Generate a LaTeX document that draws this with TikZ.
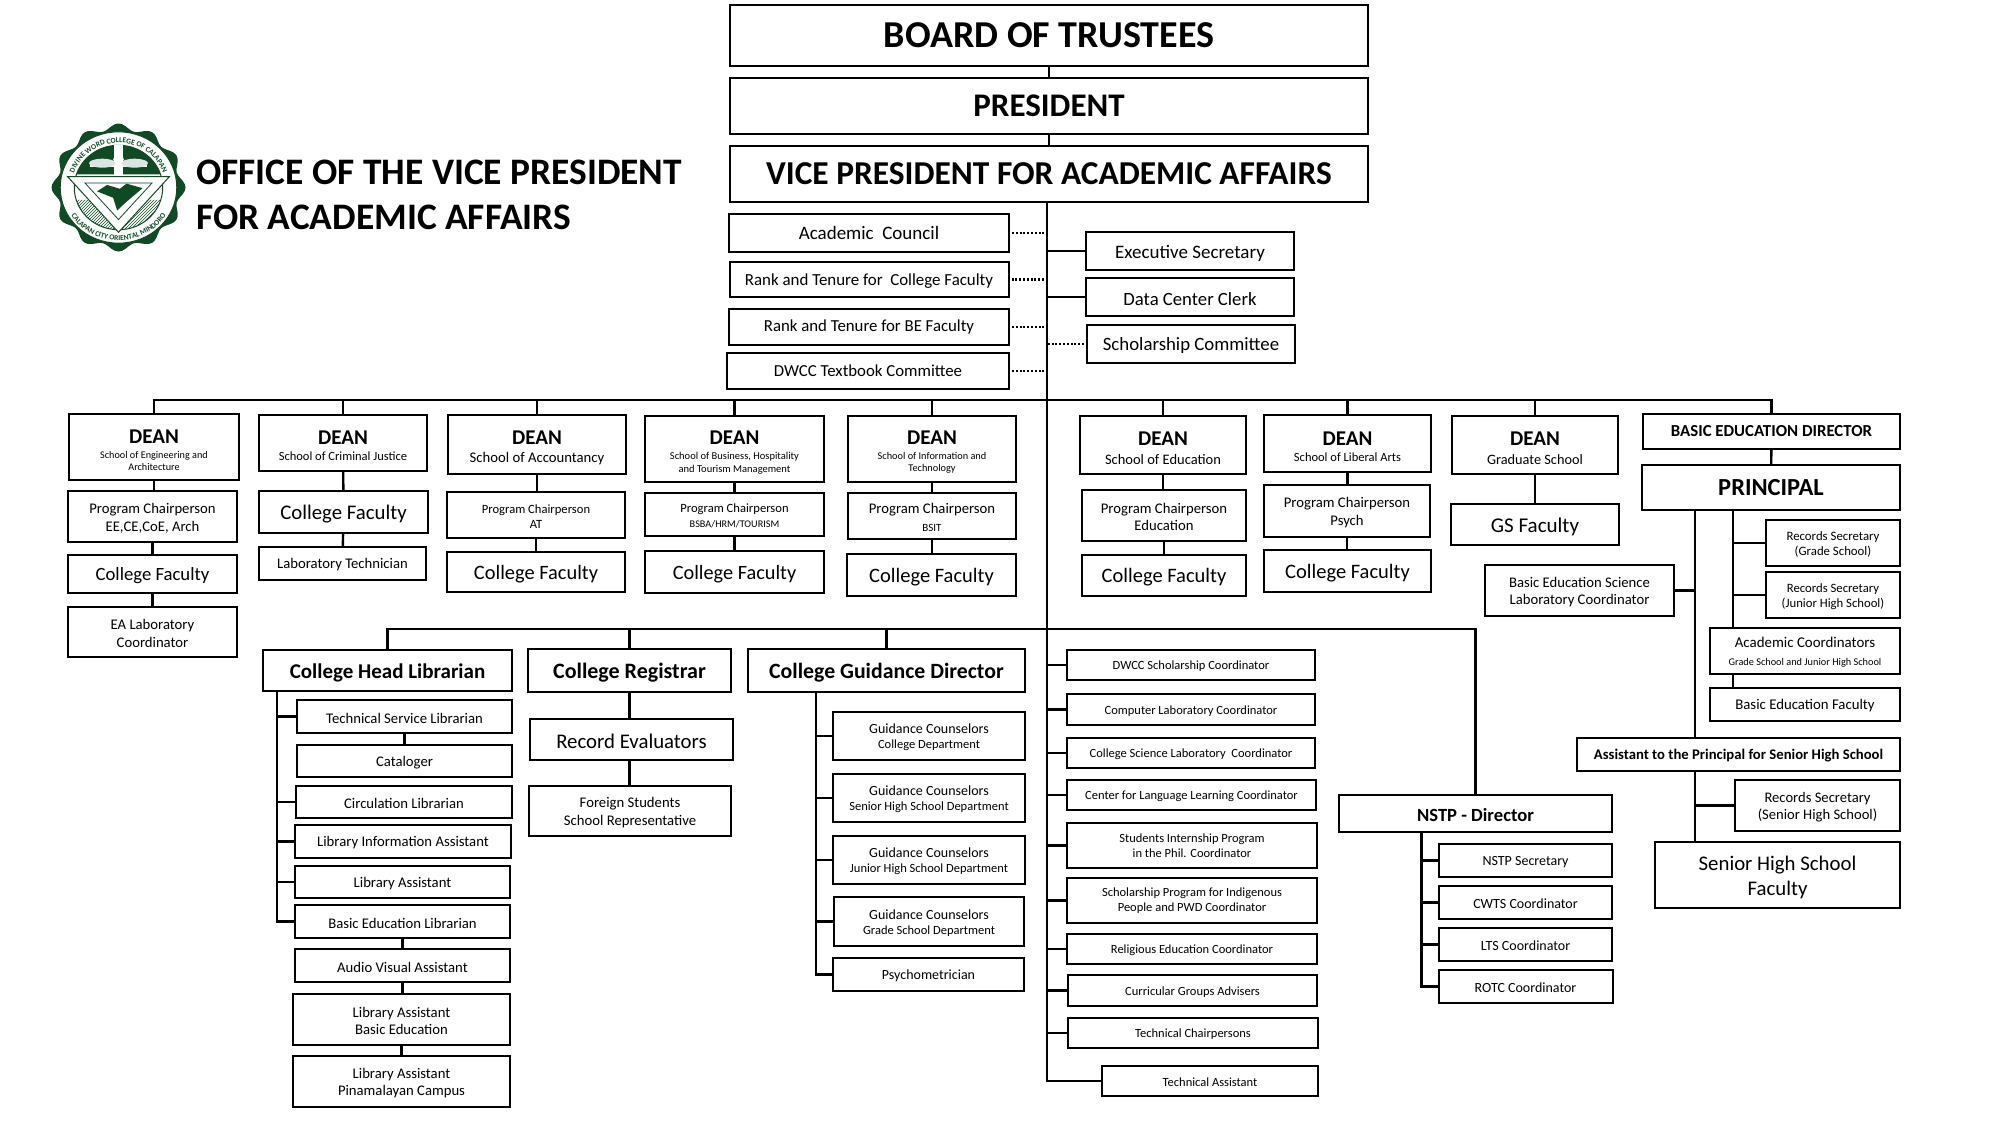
\documentclass[tikz,border=0pt]{standalone}
\usepackage{fontspec}
\setmainfont{Carlito}
\usetikzlibrary{patterns,decorations.text}
\definecolor{sealgreen}{HTML}{0F4A24}
\newcommand{\fz}[1]{\fontsize{#1}{#1}\selectfont\baselineskip=1.2\dimexpr#1pt\relax}
\newcommand{\deanhead}{{\fz{21}\bfseries\rule{0pt}{20pt}DEAN}}
\newcommand{\lead}{\rule{0pt}{.9em}}
\tikzset{
	capsbox/.style 2 args={draw, rectangle, line width=2pt, outer sep=0pt, inner sep=0pt,
		minimum width=#1pt, minimum height=#2pt, align=center},
	box/.style 2 args={capsbox={#1}{#2}, execute at begin node={\rule{0pt}{.9em}}},
	link/.style={line width=2.4pt},
	dotlink/.style={line width=2.4pt, dash pattern=on 2pt off 1.8pt, shorten <=3pt}
}
\begin{document}
\begin{tikzpicture}[x=1pt, y=-1pt]
	\useasboundingbox (0,0) rectangle (2000,1125);

	% seal
	\begin{scope}[shift={(118.5,187.5)}, x=67pt, y=64pt]
		\fill [sealgreen] plot [domain=0:360, samples=121, smooth] ({(1-.05+.05*cos(12*\x))*cos(\x)},{(1-.05+.05*cos(12*\x))*sin(\x)}) -- cycle;
		\draw [fill=white, draw=sealgreen, line width=1pt] (0,0) circle (.87);
		\path [decorate, decoration={text along path, text align=center, text={|\fz{7.5}\bfseries\color{sealgreen}|DIVINE WORD COLLEGE OF CALAPAN}}] (183:.7) arc (183:-3:.7);
		\path [decorate, decoration={text along path, text align=center, text={|\fz{7.5}\bfseries\color{sealgreen}|CALAPAN CITY ORIENTAL MINDORO}}] (200:.83) arc (200:340:.83);
		\draw [sealgreen, line width=1pt] (0,0) circle (.66);
		\fill [sealgreen] (162:.66) arc (162:18:.66) -- cycle;
		\fill [white] (-.07,.66) rectangle (.07,.2);
		\fill [white] (-.42,.36) rectangle (.42,.32);
		\fill [white!85!sealgreen] (-.24,.38) ellipse (.2 and .07);
		\fill [white!85!sealgreen] (.24,.38) ellipse (.2 and .07);
		\fill [white] (0,.44) circle (.08);
		\fill [pattern=north east lines, pattern color=sealgreen] (197:.66) arc (197:343:.66) -- cycle;
		\draw [sealgreen, fill=white, line width=1pt] (-.76,.17) -- (.76,.17) -- (0,-.7) -- cycle;
		\draw [sealgreen, fill=white, line width=.8pt] (-.5,.07) -- (.5,.07) -- (0,-.5) -- cycle;
		\fill [sealgreen] (-.32,-.06) -- (-.17,.04) -- (.02,-.02) -- (.12,.06) -- (.36,-.01) -- (.1,-.24) -- (-.02,-.36) -- (-.08,-.16) -- cycle;
	\end{scope}

	\node [anchor=west, align=left, inner sep=0pt, font=\fz{37.4}\bfseries] (title) at (196,195) {OFFICE OF THE VICE PRESIDENT\\[0pt]FOR ACADEMIC AFFAIRS};

	% top of the chart
	\node [capsbox={638}{61}, font=\fz{38}\bfseries] (board) at (1049,35.5) {BOARD OF TRUSTEES};
	\node [capsbox={638}{56}, font=\fz{33}\bfseries] (pres) at (1049,106) {PRESIDENT};
	\node [capsbox={638}{56}, font=\fz{33.4}\bfseries] (vp) at (1049,174) {VICE PRESIDENT FOR ACADEMIC AFFAIRS};

	\node [capsbox={280}{38}, font=\fz{19}] (acad) at (869,233) {Academic\ \ Council};
	\node [box={279}{35}, font=\fz{16.9}] (rankcol) at (869,279.5) {Rank and Tenure for\ \ College Faculty};
	\node [capsbox={280}{36}, font=\fz{16.8}] (rankbe) at (869,327) {Rank and Tenure for BE Faculty};
	\node [capsbox={282}{36}, font=\fz{16.8}] (textbook) at (868,371) {DWCC Textbook Committee};
	\node [box={208}{38}, font=\fz{19}] (exec) at (1190,251) {Executive Secretary};
	\node [box={208}{38}, font=\fz{18.7}] (data) at (1190,297) {Data Center Clerk};
	\node [box={208}{38}, font=\fz{18.8}] (schol) at (1191,344) {Scholarship Committee};

	% deans
	\node [box={170}{66}, font=\fz{10.2}] (dean1) at (154,447) {\deanhead\\[3pt]School of Engineering and\\Architecture};
	\node [box={169}{51}, font=\fz{14.7}] (pc1) at (152.5,516.5) {\lead Program Chairperson\\EE,CE,CoE, Arch};
	\node [box={169}{38}, font=\fz{18.7}] (cf1) at (152.5,574) {College Faculty};
	\node [box={169}{50}, font=\fz{14.7}] (ealab) at (152.5,632) {\lead EA Laboratory\\Coordinator};

	\node [box={168}{56}, font=\fz{12.5}] (dean2) at (343,443) {\deanhead\\[1pt]School of Criminal Justice};
	\node [box={169}{42}, font=\fz{20.8}] (cf2) at (343.5,512) {College Faculty};
	\node [box={167}{33}, font=\fz{14.7}] (labtech) at (342.5,563.5) {Laboratory Technician};

	\node [box={178}{59}, font=\fz{14.7}] (dean3) at (537,444.5) {\deanhead\\[1pt]School of Accountancy};
	\node [box={178}{46}, font=\fz{12.6}] (pc3) at (536,515) {\lead Program Chairperson\\AT};
	\node [box={178}{40}, font=\fz{20.4}] (cf3) at (536,572) {College Faculty};

	\node [box={179}{66}, font=\fz{10.5}] (dean4) at (734.5,449) {\deanhead\\[3pt]School of Business, Hospitality\\and Tourism Management};
	\node [box={179}{43}, font=\fz{12.6}] (pc4) at (734.5,514.5) {\lead Program Chairperson\\{\fz{10.2}BSBA/HRM/TOURISM}};
	\node [box={179}{42}, font=\fz{20.3}] (cf4) at (734.5,572) {College Faculty};

	\node [box={168}{66}, font=\fz{10.3}] (dean5) at (932,449) {\deanhead\\[3pt]School of Information and\\Technology};
	\node [box={168}{46}, font=\fz{14.7}] (pc5) at (932,516) {\lead Program Chairperson\\{\fz{11}BSIT}};
	\node [box={169}{42}, font=\fz{20.5}] (cf5) at (931.5,575) {College Faculty};

	\node [box={166}{58}, font=\fz{14.5}] (dean6) at (1163,445) {\deanhead\\[1pt]School of Education};
	\node [box={164}{51}, font=\fz{14.7}] (pc6) at (1164,515.5) {\lead Program Chairperson\\Education};
	\node [box={164}{41}, font=\fz{20.5}] (cf6) at (1164,575.5) {College Faculty};

	\node [box={167}{57}, font=\fz{12.5}] (dean7) at (1347.5,443.5) {\deanhead\\[1pt]School of Liberal Arts};
	\node [box={166}{52}, font=\fz{14.7}] (pc7) at (1347,511) {\lead Program Chairperson\\Psych};
	\node [box={167}{42}, font=\fz{20.5}] (cf7) at (1347.5,571) {College Faculty};

	\node [box={166}{58}, font=\fz{14.3}] (dean8) at (1535,445) {\deanhead\\[1pt]Graduate School};
	\node [box={168.5}{41}, font=\fz{21}] (gsfac) at (1535,524.5) {GS Faculty};

	% basic education
	\node [capsbox={257}{35}, font=\fz{16.8}\bfseries] (bed) at (1771.5,431.5) {BASIC EDUCATION DIRECTOR};
	\node [capsbox={258}{45}, font=\fz{24.5}\bfseries] (principal) at (1771,487.5) {PRINCIPAL};
	\node [box={134}{46}, font=\fz{12.8}] (rsgs) at (1833,543) {\lead Records Secretary\\(Grade School)};
	\node [box={134}{46}, font=\fz{12.7}] (rsjhs) at (1833,595) {\lead Records Secretary\\(Junior High School)};
	\node [box={190}{46}, font=\fz{14.9}] (acoord) at (1805,651) {\lead Academic Coordinators\\{\fz{10.3}Grade School and Junior High School}};
	\node [box={190}{33}, font=\fz{14.8}] (befac) at (1805,704.5) {Basic Education Faculty};
	\node [box={189}{51}, font=\fz{14.7}] (belab) at (1579.5,590.5) {\lead Basic Education Science\\Laboratory Coordinator};
	\node [box={323}{33}, font=\fz{14.7}\bfseries] (asst) at (1738.5,754.5) {Assistant to the Principal for Senior High School};
	\node [box={165}{51}, font=\fz{14.6}] (rsshs) at (1817.5,805.5) {\lead Records Secretary\\(Senior High School)};
	\node [box={245}{66}, font=\fz{20.8}] (shsfac) at (1777.5,875) {\lead Senior High School\\Faculty};

	% library
	\node [box={249}{41}, font=\fz{21}\bfseries] (chl) at (387.5,670.5) {College Head Librarian};
	\node [box={215}{33}, font=\fz{14.7}] (tsl) at (404.5,716.5) {Technical Service Librarian};
	\node [box={215}{32}, font=\fz{14.7}] (catal) at (404.5,761) {Cataloger};
	\node [box={216}{32}, font=\fz{14.7}] (circ) at (404,802) {Circulation Librarian};
	\node [box={216}{33}, font=\fz{14.7}] (libinfo) at (403,841.5) {Library Information Assistant};
	\node [box={215}{32}, font=\fz{14.7}] (libasst) at (402.5,882) {Library Assistant};
	\node [box={215}{33}, font=\fz{14.7}] (bel) at (402.5,921.5) {Basic Education Librarian};
	\node [box={215}{33}, font=\fz{14.7}] (av) at (402.5,965.5) {Audio Visual Assistant};
	\node [box={217}{51}, font=\fz{14.7}] (labe) at (401.5,1019.5) {\lead Library Assistant\\Basic Education};
	\node [box={217}{51}, font=\fz{14.7}] (lapin) at (401.5,1081.5) {\lead Library Assistant\\Pinamalayan Campus};

	% registrar
	\node [box={203}{43}, font=\fz{22}\bfseries] (reg) at (629.5,670.5) {College Registrar};
	\node [box={203}{41}, font=\fz{20.8}] (rec) at (631.5,739.5) {Record Evaluators};
	\node [box={202}{50}, font=\fz{14.7}] (foreign) at (630,811) {\lead Foreign Students\\School Representative};

	% guidance
	\node [box={277}{43}, font=\fz{21.8}\bfseries] (cgd) at (886.5,670.5) {College Guidance Director};
	\node [box={192}{48}, font=\fz{12.5}] (gc1) at (929,736) {{\fz{14}\lead Guidance Counselors}\\College Department};
	\node [box={192}{48}, font=\fz{12.5}] (gc2) at (929,798) {{\fz{14}\lead Guidance Counselors}\\Senior High School Department};
	\node [box={192}{48}, font=\fz{12.5}] (gc3) at (929,860) {{\fz{14}\lead Guidance Counselors}\\Junior High School Department};
	\node [box={190}{49}, font=\fz{12.5}] (gc4) at (929,921.5) {{\fz{14}\lead Guidance Counselors}\\Grade School Department};
	\node [box={191}{33}, font=\fz{14}] (psych) at (928.5,974.5) {Psychometrician};

	% coordinators
	\node [box={248}{30}, font=\fz{12.5}] (dwcc) at (1191,665) {DWCC Scholarship Coordinator};
	\node [box={248}{31}, font=\fz{12.5}] (comp) at (1191,709.5) {Computer Laboratory Coordinator};
	\node [box={248}{30}, font=\fz{12.5}] (csl) at (1191,753) {College Science Laboratory\ \ Coordinator};
	\node [box={249}{30}, font=\fz{12.5}] (cll) at (1191.5,795) {Center for Language Learning Coordinator};
	\node [box={250}{45}, font=\fz{12.5}] (sip) at (1192,845.5) {Students Internship Program\\in the Phil. Coordinator};
	\node [box={250}{45}, font=\fz{12.5}] (spi) at (1192,900.5) {Scholarship Program for Indigenous\\People and PWD Coordinator};
	\node [box={250}{30}, font=\fz{12.5}] (rel) at (1192,949) {Religious Education Coordinator};
	\node [box={249}{31}, font=\fz{12.5}] (curr) at (1192.5,990.5) {Curricular Groups Advisers};
	\node [box={250}{30}, font=\fz{12.5}] (tchair) at (1193,1033) {Technical Chairpersons};
	\node [box={216}{30}, font=\fz{12.5}] (tassist) at (1210,1081) {Technical Assistant};

	% nstp
	\node [box={273}{37}, font=\fz{18.6}\bfseries] (nstp) at (1475.5,813.5) {NSTP - Director};
	\node [box={173}{33}, font=\fz{14}] (nsec) at (1525.5,860.5) {NSTP Secretary};
	\node [box={173}{33}, font=\fz{14}] (cwts) at (1525.5,902.5) {CWTS Coordinator};
	\node [box={173}{33}, font=\fz{14}] (lts) at (1525.5,944.5) {LTS Coordinator};
	\node [box={174}{33}, font=\fz{14}] (rotc) at (1525.5,986.5) {ROTC Coordinator};

	\coordinate (trunk) at (1047,202);
	\coordinate (busa) at (1047,400);
	\coordinate (busb) at (1047,629);
	\coordinate (libdown) at (277,691);
	\coordinate (gcdown) at (816,692);
	\coordinate (nstpdown) at (1421.5,832);
	\coordinate (prina) at (1695,510);
	\coordinate (prinb) at (1733,510);

	\draw [link] (board) -- (pres);
	\draw [link] (pres) -- (vp);
	\draw [link] (trunk) |- (tassist);
	\draw [link] (exec) -- (trunk |- exec);
	\draw [link] (data) -- (trunk |- data);
	\draw [dotlink] (acad.east) -- (trunk |- acad.east);
	\draw [dotlink] (rankcol.east) -- (trunk |- rankcol.east);
	\draw [dotlink] (rankbe.east) -- (trunk |- rankbe.east);
	\draw [dotlink] (textbook.east) -- (trunk |- textbook.east);
	\draw [dotlink] (schol.west) -- (trunk |- schol.west);

	\draw [link] (dean1.north) |- (busa) -| (bed.north);
	\draw [link] (dean2.north) -- (dean2.north |- busa);
	\draw [link] (dean3.north) -- (dean3.north |- busa);
	\draw [link] (dean4.north) -- (dean4.north |- busa);
	\draw [link] (dean5.north) -- (dean5.north |- busa);
	\draw [link] (dean6.north) -- (dean6.north |- busa);
	\draw [link] (dean7.north) -- (dean7.north |- busa);
	\draw [link] (dean8.north) -- (dean8.north |- busa);

	\draw [link] (dean1.south) -- (dean1.south |- pc1.north);
	\draw [link] (pc1) -- (cf1);
	\draw [link] (cf1) -- (ealab);
	\draw [link] (dean2) -- (cf2);
	\draw [link] (cf2) -- (labtech);
	\draw [link] (dean3.south) -- (dean3.south |- pc3.north);
	\draw [link] (pc3) -- (cf3);
	\draw [link] (dean4) -- (pc4);
	\draw [link] (pc4) -- (cf4);
	\draw [link] (dean5) -- (pc5);
	\draw [link] (pc5.south) -- (pc5.south |- cf5.north);
	\draw [link] (dean6.south) -- (dean6.south |- pc6.north);
	\draw [link] (pc6) -- (cf6);
	\draw [link] (dean7.south) -- (dean7.south |- pc7.north);
	\draw [link] (pc7.south) -- (pc7.south |- cf7.north);
	\draw [link] (dean8) -- (gsfac);

	\draw [link] (bed) -- (principal);
	\draw [link] (prina) -- (prina |- asst.north);
	\draw [link] (prinb) -- (prinb |- acoord.north);
	\draw [link] (rsgs) -- (prinb |- rsgs);
	\draw [link] (rsjhs) -- (prinb |- rsjhs);
	\draw [link] (prinb |- acoord.south) -- (prinb |- befac.north);
	\draw [link] (belab) -- (prina |- belab);
	\draw [link] (prina |- asst.south) -- (prina |- shsfac.north);
	\draw [link] (rsshs) -- (prina |- rsshs);

	\draw [link] (chl.north) |- (busb) -| (nstp.north);
	\draw [link] (reg.north) -- (reg.north |- busb);
	\draw [link] (cgd.north) -- (cgd.north |- busb);

	\draw [link] (libdown) |- (bel);
	\draw [link] (tsl) -- (libdown |- tsl);
	\draw [link] (circ) -- (libdown |- circ);
	\draw [link] (libinfo) -- (libdown |- libinfo);
	\draw [link] (libasst) -- (libdown |- libasst);
	\draw [link] (tsl) -- (catal);
	\draw [link] (bel) -- (av);
	\draw [link] (av.south) -- (av.south |- labe.north);
	\draw [link] (labe) -- (lapin);

	\draw [link] (reg.south) -- (reg.south |- rec.north);
	\draw [link] (reg.south |- rec.south) -- (reg.south |- foreign.north);

	\draw [link] (gcdown) |- (psych);
	\draw [link] (gc1) -- (gcdown |- gc1);
	\draw [link] (gc2) -- (gcdown |- gc2);
	\draw [link] (gc3) -- (gcdown |- gc3);
	\draw [link] (gc4) -- (gcdown |- gc4);

	\draw [link] (dwcc) -- (trunk |- dwcc);
	\draw [link] (comp) -- (trunk |- comp);
	\draw [link] (csl) -- (trunk |- csl);
	\draw [link] (cll) -- (trunk |- cll);
	\draw [link] (sip) -- (trunk |- sip);
	\draw [link] (spi) -- (trunk |- spi);
	\draw [link] (rel) -- (trunk |- rel);
	\draw [link] (curr) -- (trunk |- curr);
	\draw [link] (tchair) -- (trunk |- tchair);

	\draw [link] (nstpdown) |- (rotc);
	\draw [link] (nsec) -- (nstpdown |- nsec);
	\draw [link] (cwts) -- (nstpdown |- cwts);
	\draw [link] (lts) -- (nstpdown |- lts);
\end{tikzpicture}
\end{document}
